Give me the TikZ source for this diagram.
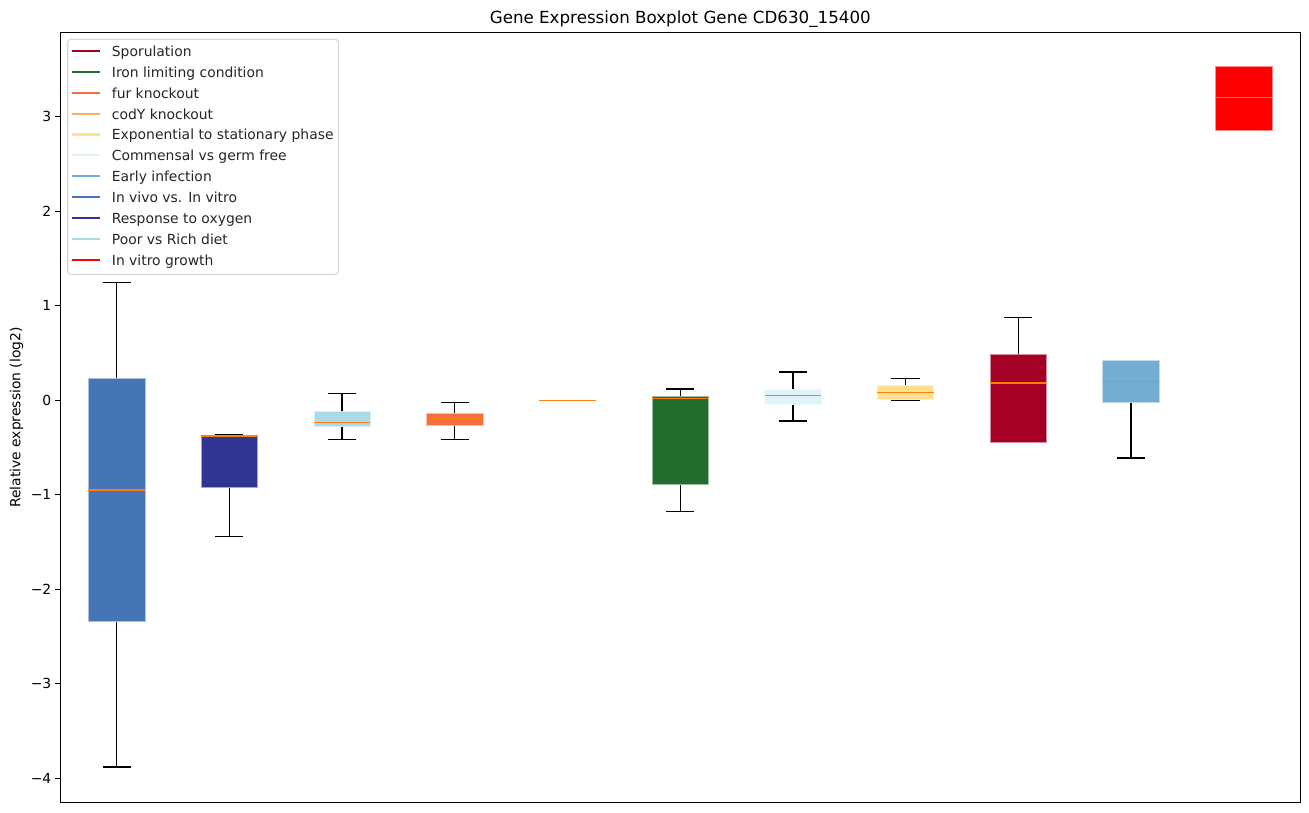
\documentclass[tikz,border=0pt]{standalone}
\usepackage{fontspec}
\setmainfont{DejaVu Sans}
\definecolor{cspor}{HTML}{A50026}
\definecolor{ciron}{HTML}{226C2E}
\definecolor{cfur}{HTML}{F46D43}
\definecolor{ccody}{HTML}{FDAE61}
\definecolor{cexpo}{HTML}{FEE090}
\definecolor{ccomm}{HTML}{E0F3F8}
\definecolor{cearly}{HTML}{74ADD1}
\definecolor{cvivo}{HTML}{4575B4}
\definecolor{coxy}{HTML}{313695}
\definecolor{cpoor}{HTML}{ABD9E9}
\definecolor{cvitro}{HTML}{FF0000}
\definecolor{cmed}{HTML}{FF7F0E}
\definecolor{cframe}{HTML}{D6D6D6}
\tikzset{
  whisk/.style={black,line width=1.3pt},
  medline/.style={cmed,line width=1.4pt},
  ticklbl/.style={anchor=east,inner sep=0pt,font=\fontsize{13.9}{16}\selectfont},
  legline/.style={line width=2.1pt},
  legtext/.style={anchor=base west,inner sep=0pt,font=\fontsize{13.9}{16}\selectfont,text=black!85},
}
% center, q1, median, q3, whisker low, whisker high, colour
\newcommand\bplot[7]{%
  \draw[whisk] (#1,#4) -- (#1,#6);
  \draw[whisk] (#1,#2) -- (#1,#5);
  \draw[whisk] (#1-14.1,#6) -- (#1+14.1,#6);
  \draw[whisk] (#1-14.1,#5) -- (#1+14.1,#5);
  \filldraw[fill=#7,draw=white!55!#7,line width=0.6pt] (#1-28.2,#2) rectangle (#1+28.2,#4);
  \draw[medline] (#1-28.2,#3) -- (#1+28.2,#3);
}
\begin{document}
\begin{tikzpicture}[x=1pt,y=-1pt]
\useasboundingbox (0,0) rectangle (1309,812);
\fill[white] (0,0) rectangle (1309,812);
% title
\node[anchor=base,inner sep=0pt,font=\fontsize{16.7}{19}\selectfont] (title) at (680.3,23.6) {Gene Expression Boxplot Gene CD630\_15400};
% data
\begin{scope}[y=94.5pt,yshift=-400.3pt]
\bplot{116.65}{-2.34}{-0.95}{0.23}{-3.88}{1.25}{cvivo}
\bplot{229.35}{-0.917}{-0.378}{-0.375}{-1.44}{-0.364}{coxy}
\bplot{342.05}{-0.279}{-0.233}{-0.113}{-0.413}{0.074}{cpoor}
\bplot{454.75}{-0.268}{-0.19}{-0.134}{-0.413}{-0.021}{cfur}
\bplot{567.45}{0}{0}{0}{0}{0}{ccody}
\bplot{680.15}{-0.893}{0.02}{0.045}{-1.18}{0.12}{ciron}
\bplot{792.85}{-0.046}{0.053}{0.12}{-0.22}{0.30}{ccomm}
\bplot{905.55}{0.006}{0.085}{0.162}{0.003}{0.233}{cexpo}
\bplot{1018.25}{-0.449}{0.183}{0.483}{-0.449}{0.874}{cspor}
\bplot{1130.95}{-0.025}{0.20}{0.42}{-0.61}{0.42}{cearly}
\bplot{1243.65}{2.853}{3.206}{3.53}{2.853}{3.53}{cvitro}
% y ticks
\foreach \v/\l in {3/3,2/2,1/1,0/0,-1/−1,-2/−2,-3/−3,-4/−4}{
  \draw[black,line width=1.1pt] (55.4,\v) -- (60.3,\v);
  \node[ticklbl] (tick\v) at (51.5,\v) {\l};
}
\end{scope}
% axes frame
\draw[black,line width=1.1pt] (60.3,32.7) rectangle (1300.3,802.3);
% y label
\node[rotate=90,inner sep=0pt,font=\fontsize{13.9}{16}\selectfont] (ylabel) at (16.5,417.5) {Relative expression (log2)};
% legend
\draw[cframe,fill=white,line width=1.1pt,rounded corners=3pt] (67.7,39.3) rectangle (338.3,274.3);
\foreach \c/\t [count=\i from 0] in {cspor/Sporulation,ciron/Iron limiting condition,cfur/fur knockout,ccody/codY knockout,cexpo/Exponential to stationary phase,ccomm/Commensal vs germ free,cearly/Early infection,cvivo/In vivo vs. In vitro,coxy/Response to oxygen,cpoor/Poor vs Rich diet,cvitro/In vitro growth}{
  \pgfmathsetmacro\ry{51+20.87*\i}
  \draw[legline,\c] (71.7,\ry) -- (100.3,\ry);
  \node[legtext] (leg\i) at (111.7,\ry+5.4) {\t};
}
\end{tikzpicture}
\end{document}
